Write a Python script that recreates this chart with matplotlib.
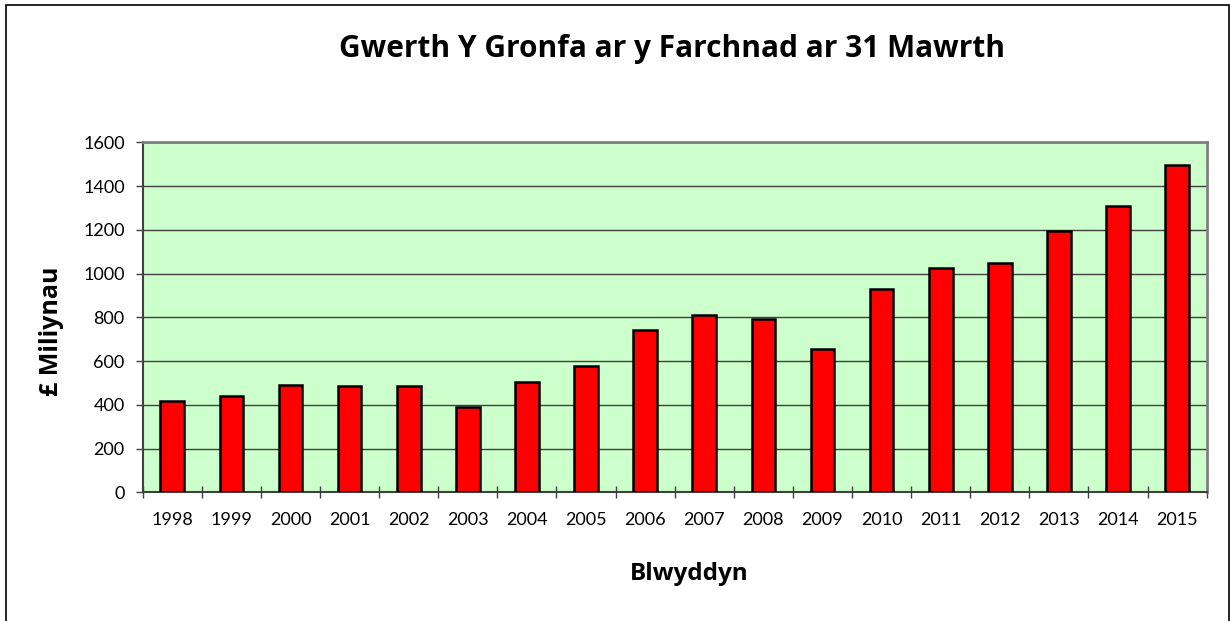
import matplotlib
matplotlib.use("Agg")
import matplotlib.pyplot as plt
from matplotlib.patches import Rectangle

# data
years = ["1998", "1999", "2000", "2001", "2002", "2003", "2004", "2005", "2006",
         "2007", "2008", "2009", "2010", "2011", "2012", "2013", "2014", "2015"]
values = [418, 440, 490, 485, 486, 390, 505, 578, 740,
          812, 792, 656, 928, 1025, 1050, 1195, 1308, 1498]
yticks = [0, 200, 400, 600, 800, 1000, 1200, 1400, 1600]

title = "Gwerth Y Gronfa ar y Farchnad ar 31 Mawrth"
xlabel = "Blwyddyn"
ylabel = "£ Miliynau"

W, H = 1230, 621
plt.rcParams['font.family'] = ['Lato', 'DejaVu Sans']
bold_font = ['Open Sans', 'DejaVu Sans']

fig = plt.figure(figsize=(W / 100, H / 100), dpi=100)
fig.patch.set_facecolor("white")

# outer chart frame (runs off the bottom/right edge in the reference)
fig.patches.append(Rectangle((5.5 / W, -0.02), (1229 - 5.5) / W, 1.02 - 4.5 / H,
                             transform=fig.transFigure, fill=False,
                             edgecolor="black", linewidth=1.2))

ax = fig.add_axes([142.7 / W, 1 - 492.3 / H, (1206.7 - 142.7) / W, (492.3 - 142.3) / H])
ax.set_facecolor("#CCFFCC")

x = list(range(len(years)))
ax.bar(x, values, width=0.4, color="#FF0000", edgecolor="black", linewidth=1.8, zorder=3)

ax.set_xlim(-0.5, len(years) - 0.5)
ax.set_ylim(0, 1600)
ax.set_yticks(yticks)
ax.set_yticklabels([str(v) for v in yticks], fontsize=13)
ax.yaxis.grid(True, color="#404040", linewidth=1.0, zorder=1)
ax.set_axisbelow(True)

# category labels centred, tick marks on the boundaries
ax.set_xticks(x)
ax.set_xticklabels(years, fontsize=13)
ax.tick_params(axis="x", which="major", length=0, pad=14)
ax.set_xticks([i - 0.5 for i in range(len(years) + 1)], minor=True)
ax.tick_params(axis="x", which="minor", direction="inout", length=9, width=1, color="#404040")
ax.tick_params(axis="y", direction="out", length=5, width=1, color="#404040", pad=8)

for side in ["top", "right"]:
    ax.spines[side].set_color("#808080")
    ax.spines[side].set_linewidth(2)
ax.spines["left"].set_color("#404040")
ax.spines["left"].set_linewidth(1.5)
ax.spines["bottom"].set_color("#404040")
ax.spines["bottom"].set_linewidth(1.5)

fig.text(672 / W, 1 - 56.7 / H, title, ha="center", va="baseline",
         fontsize=21.5, fontweight="bold", family=bold_font)
fig.text(689 / W, 1 - 580 / H, xlabel, ha="center", va="baseline",
         fontsize=17.5, fontweight="bold", family=bold_font)
fig.text(52 / W, 1 - 331 / H, ylabel, ha="center", va="center", rotation=90,
         fontsize=18, fontweight="bold", family=bold_font)

fig.savefig("out.png", dpi=100)
